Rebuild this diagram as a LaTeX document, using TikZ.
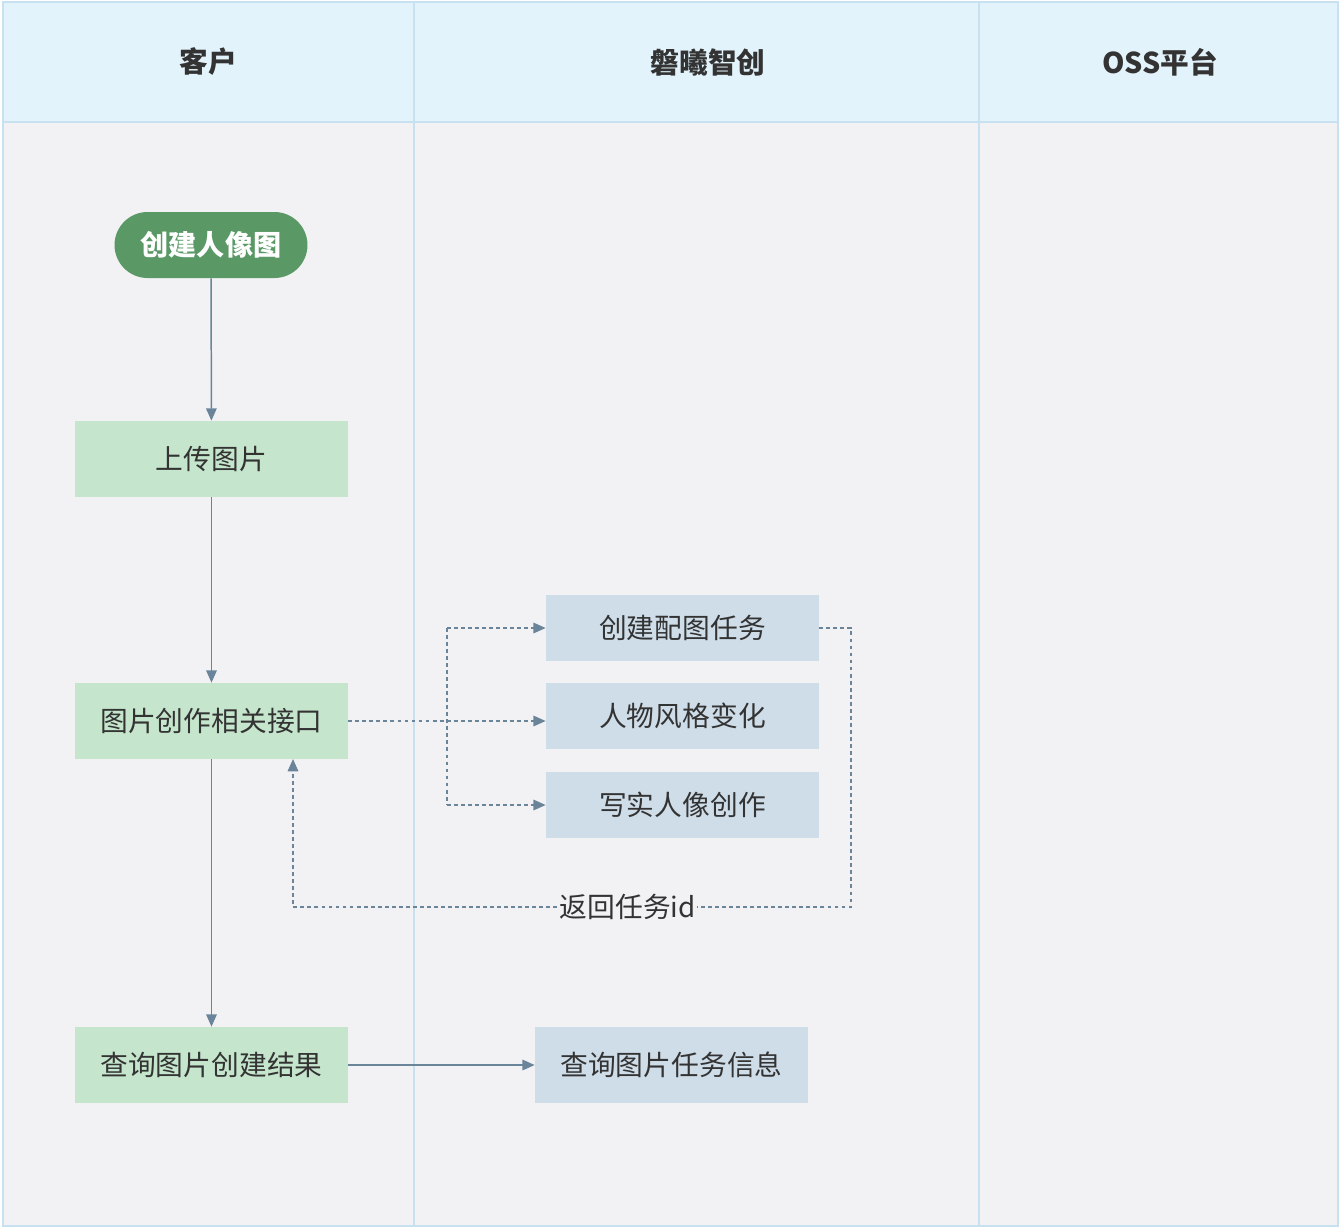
\documentclass[tikz,border=0pt]{standalone}
\usepackage{fontspec}
\setmainfont{Noto Sans CJK SC}
\usetikzlibrary{arrows.meta}
\definecolor{lanebg}{HTML}{F2F2F4}
\definecolor{headbg}{HTML}{E3F3FC}
\definecolor{laneline}{HTML}{C8E1F1}
\definecolor{startgreen}{HTML}{5A9966}
\definecolor{stepgreen}{HTML}{C5E6CC}
\definecolor{taskblue}{HTML}{CFDDE9}
\definecolor{linkcol}{HTML}{6A8499}
\definecolor{txt}{HTML}{333333}
\tikzset{
  headtext/.style={font=\fontsize{16.3}{19}\selectfont\bfseries, text=txt},
  startbox/.style={rounded corners=0.66cm, fill=startgreen, text=white,
    minimum width=3.86cm, minimum height=1.32cm, font=\fontsize{16}{19}\selectfont\bfseries},
  clientbox/.style={fill=stepgreen, minimum width=5.46cm, minimum height=1.52cm,
    text=txt, font=\fontsize{15.8}{19}\selectfont},
  taskbox/.style={fill=taskblue, minimum width=5.46cm, minimum height=1.32cm,
    text=txt, font=\fontsize{15.8}{19}\selectfont},
  flow/.style={draw=linkcol, line width=0.85pt, -{Triangle[length=7pt,width=6pt]}},
  callflow/.style={flow, dash pattern=on 2.2pt off 1.8pt},
}
\begin{document}
\begin{tikzpicture}[x=0.02cm, y=-0.02cm]
  \useasboundingbox (0,0) rectangle (1340,1228);
  % lanes
  \fill[lanebg] (3,2) rectangle (1338,1226);
  \fill[headbg] (3,2) rectangle (1338,122);
  \draw[laneline, line width=1pt] (3,2) rectangle (1338,1226);
  \draw[laneline, line width=1pt] (3,122) -- (1338,122);
  \draw[laneline, line width=1pt] (414,2) -- (414,1226);
  \draw[laneline, line width=1pt] (979,2) -- (979,1226);
  \node[headtext] (client) at (208,62) {客户};
  \node[headtext] (pxzc) at (708,62) {磐曦智创};
  \node[headtext] (oss) at (1160,62) {OSS平台};
  % client side
  \node[startbox] (start) at (211,245) {创建人像图};
  \node[clientbox] (upload) at (211.5,459) {上传图片};
  \node[clientbox] (api) at (211.5,721) {图片创作相关接口};
  \node[clientbox] (query) at (211.5,1065) {查询图片创建结果};
  % server side
  \node[taskbox] (task) at (682.5,628) {创建配图任务};
  \node[taskbox] (style) at (682.5,716) {人物风格变化};
  \node[taskbox] (real) at (682.5,805) {写实人像创作};
  \node[taskbox, minimum height=1.52cm] (info) at (671.5,1065) {查询图片任务信息};
  \coordinate (fork) at (447,721);
  \coordinate (back) at (851,907);
  \coordinate (retin) at (293,759);
  % links
  \draw[flow] (start) -- (upload);
  \draw[flow] (upload) -- (api);
  \draw[flow] (api) -- (query);
  \draw[flow] (query) -- (info);
  \draw[callflow] (api.east) -- (style.west |- api.east);
  \draw[callflow] (fork |- task) -- (task.west);
  \draw[callflow] (fork |- real) -- (real.west);
  \draw[linkcol, line width=0.85pt, dash pattern=on 2.2pt off 1.8pt] (fork |- task) -- (fork |- real);
  \draw[callflow] (task.east) -| (back) -| (retin)
    node[pos=0.2, fill=lanebg, inner sep=0.5pt, text=txt, font=\fontsize{15.8}{19}\selectfont] (retid) {返回任务id};
\end{tikzpicture}
\end{document}
